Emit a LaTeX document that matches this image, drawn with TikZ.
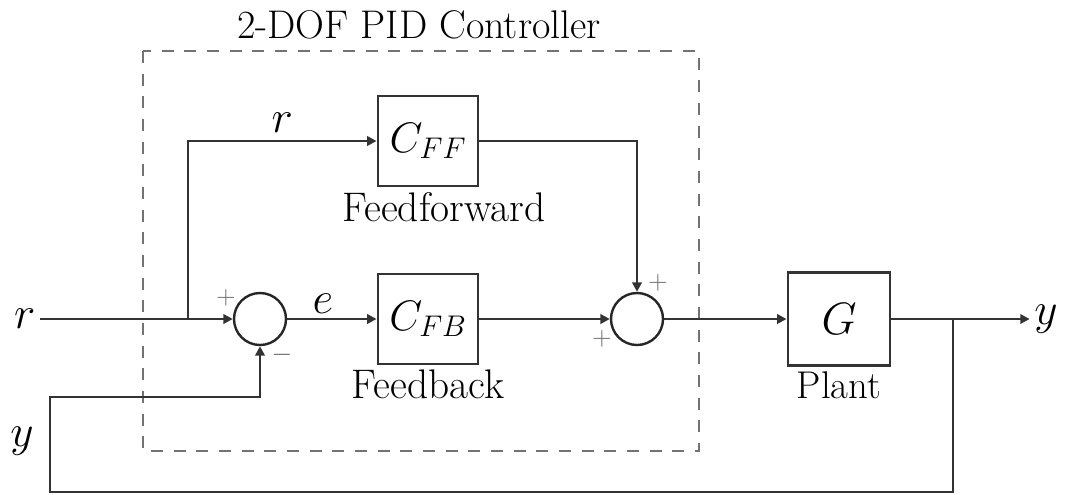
\RequirePackage{fix-cm}
\documentclass[tikz,border=0pt]{standalone}
\usepackage{tikz}
\usetikzlibrary{arrows.meta,positioning,calc}
\tikzset{
  blk/.style={draw=black!80, line width=2.2pt, minimum width=75pt, minimum height=67.5pt, inner sep=0pt},
  sumjn/.style={draw=black!85, circle, line width=1.8pt, minimum size=39pt, inner sep=0pt},
  sig/.style={line width=2.2pt, draw=black!80},
  arr/.style={sig, -{Triangle[length=7pt,width=7pt]}},
  lbl/.style={font=\fontsize{31}{36}\selectfont},
  var/.style={font=\fontsize{34}{40}\selectfont},
  sgn/.style={font=\fontsize{20}{24}\selectfont, text=black!60, inner sep=0pt},
  ctrlbox/.style={draw=black!55, line width=2pt, dash pattern=on 9pt off 8pt}}

\begin{document}
\begin{tikzpicture}[x=0.75pt, y=-0.75pt]
  \useasboundingbox (0,0) rectangle (1066,494);
  % controller frame
  \draw[ctrlbox] (143,51) rectangle (699,451);
  \node[lbl, font=\fontsize{30}{36}\selectfont] (title) at (419,25) {2-DOF PID Controller};
  % blocks
  \node[blk, font=\fontsize{32}{38}\selectfont] (cff) at (428,141) {$C_{FF}$};
  \node[blk, font=\fontsize{32}{38}\selectfont] (cfb) at (428,319) {$C_{FB}$};
  \node[blk, minimum width=76.5pt, minimum height=70pt, font=\fontsize{34}{40}\selectfont] (plant) at (839,319) {$G$};
  \node[lbl, below=0pt of cff, xshift=12pt] (fflbl) {Feedforward};
  \node[lbl, below=0pt of cfb] (fblbl) {Feedback};
  \node[lbl, below=0pt of plant, font=\fontsize{29}{34}\selectfont] (plbl) {Plant};
  \node[sumjn] (s1) at (260,319) {};
  \node[sumjn] (s2) at (637,319) {};
  % signals
  \node[var, anchor=east] (rin) at (40,319) {$r$};
  \node[var] (yout) at (1046,319) {$y$};
  \node[var] (yfb) at (22,441) {$y$};
  \coordinate (br) at (188,319);
  \coordinate (bo) at (953,319);
  \draw[sig] (rin.east) -- (br);
  \draw[arr] (br) -- (s1.west);
  \draw[arr] (br) |- (cff.west) node[var, pos=0.75, above=2pt] (rff) {$r$};
  \draw[arr] (s1) -- (cfb.west) node[var, pos=0.4, above=0pt] (err) {$e$};
  \draw[arr] (cff.east) -| (s2.north);
  \draw[arr] (cfb) -- (s2.west);
  \draw[arr] (s2) -- (plant.west);
  \draw[sig] (plant.east) -- (bo);
  \draw[arr] (bo) -- (yout.west);
  \draw[arr] (bo) -- (953,492) -- (50,492) -- (50,397) -| (s1.south);
  % signs
  \node[sgn] (p1) at (226,298) {$+$};
  \node[sgn] (m1) at (282,355) {$-$};
  \node[sgn] (p2) at (658,283) {$+$};
  \node[sgn] (p3) at (602,339) {$+$};
\end{tikzpicture}
\end{document}
